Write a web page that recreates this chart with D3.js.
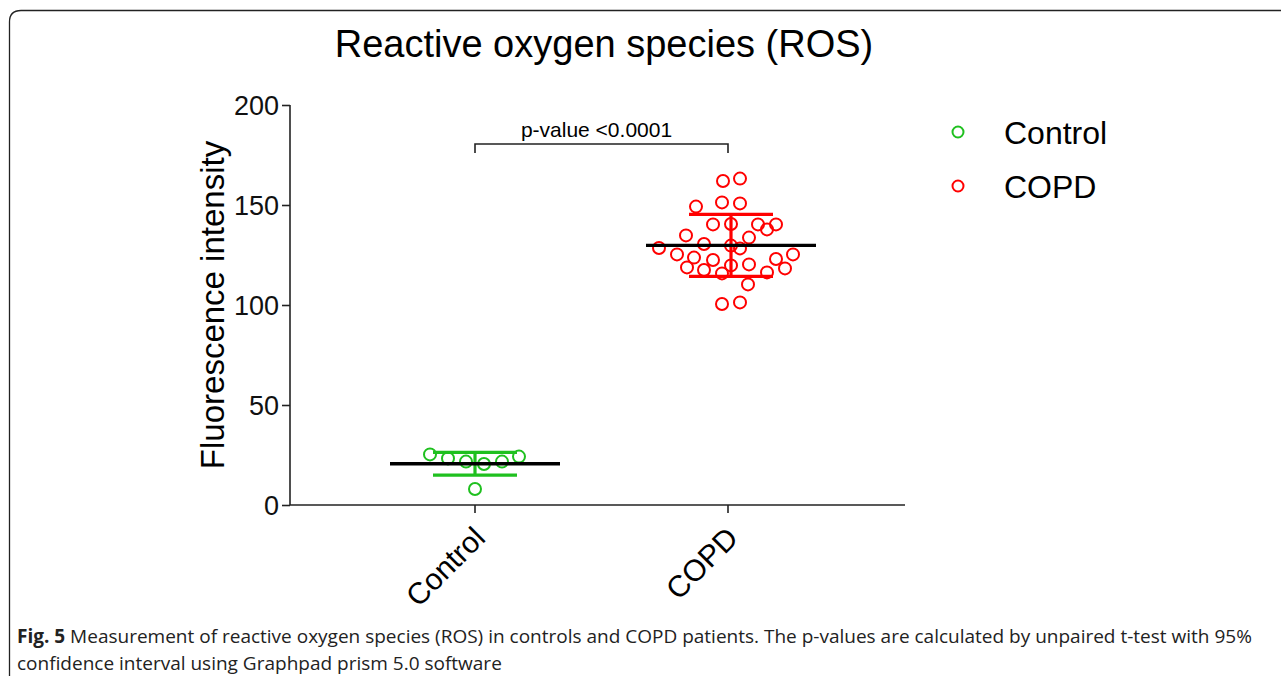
<!DOCTYPE html>
<html>
<head>
<meta charset="utf-8">
<script src="https://cdn.jsdelivr.net/npm/d3@7"></script>
<style>
  body { margin:0; background:#fff; }
  svg { display:block; }
  .caption { font-family:"Open Sans", sans-serif; font-size:19px; fill:#222; }
</style>
</head>
<body>
<svg id="chart" width="1281" height="676"></svg>
<script>
// data
const groups = ['Control', 'COPD'];
const groupColors = ['#1fc01f', '#ff0000'];
const controlValues = [25.3, 23.3, 21.7, 20.5, 21.7, 24.2, 8];
const controlOffsets = [-45, -27, -9, 9, 27, 44, 0];
const copdValues = [162, 163.2, 151.3, 150.8, 149.2, 140.3, 140.5, 140.3, 137.8, 140.3,
  134.8, 133.7, 128.5, 130.5, 129.7, 128.3, 125.3, 123.7, 122.5, 125.3, 123,
  118.8, 117.5, 115.8, 119.8, 120.3, 116.3, 118.3, 110.3, 100.5, 101.3];
const copdOffsets = [-5, 12, -6, 12, -32, -15, 3, 30, 39, 48,
  -42, 21, -69, -24, 3, 12, -51, -34, -15, 65, 48,
  -41, -24, -6, 3, 21, 39, 57, 20, -6, 12];
const stats = [
  { mean: 20.6, sd: 5.7 },
  { mean: 129.8, sd: 15.5 }
];
const yTicks = [0, 50, 100, 150, 200];
const pText = 'p-value <0.0001';

const svg = d3.select('#chart');
const SANS = 'Liberation Sans, Arial, sans-serif';

// frame: top and left edges only
svg.append('path')
  .attr('d', 'M9.5,676 L9.5,22 Q9.5,10.5 21,10.5 L1281,10.5')
  .attr('fill', 'none').attr('stroke', '#222').attr('stroke-width', 1.3);

const x = d3.scalePoint().domain(groups).range([475, 728]);
const y = d3.scaleLinear().domain([0, 200]).range([505, 105]);
const x0 = 290, x1 = 905;

// title
svg.append('text')
  .attr('x', 604).attr('y', 57)
  .attr('text-anchor', 'middle')
  .style('font-family', SANS)
  .style('font-size', '38px')
  .text('Reactive oxygen species (ROS)');

// y axis
const yAxis = svg.append('g')
  .attr('transform', `translate(${x0},0)`)
  .call(d3.axisLeft(y).tickValues(yTicks).tickSize(8).tickPadding(3));
yAxis.select('.domain').attr('stroke', '#222').attr('stroke-width', 1.6).attr('d', `M0,${y(200)}V${y(0)}`);
yAxis.selectAll('.tick line').attr('stroke', '#222').attr('stroke-width', 1.6);
yAxis.selectAll('.tick text')
  .style('font-family', SANS)
  .style('font-size', '27px').attr('fill', '#111').attr('dy', '0.36em');

svg.append('text')
  .attr('transform', `translate(224,${y(100)}) rotate(-90)`)
  .attr('text-anchor', 'middle')
  .style('font-family', SANS)
  .style('font-size', '33px')
  .text('Fluorescence intensity');

// x axis
const xAxisG = svg.append('g').attr('transform', `translate(0,${y(0)})`);
xAxisG.append('line').attr('x1', x0).attr('x2', x1)
  .attr('stroke', '#222').attr('stroke-width', 1.6);
groups.forEach(g => {
  xAxisG.append('line').attr('x1', x(g)).attr('x2', x(g)).attr('y1', 0).attr('y2', 8)
    .attr('stroke', '#222').attr('stroke-width', 1.6);
  xAxisG.append('text')
    .attr('transform', `translate(${x(g) - 3},${20}) rotate(-45)`)
    .attr('text-anchor', 'end')
    .attr('dy', '0.7em')
    .style('font-family', SANS)
    .style('font-size', '30px')
    .text(g);
});

// significance bracket
const by = 144, bh = 9;
svg.append('path')
  .attr('d', `M${x('Control')},${by + bh}V${by}H${x('COPD')}V${by + bh}`)
  .attr('fill', 'none').attr('stroke', '#222').attr('stroke-width', 1.6);
svg.append('text')
  .attr('x', (x('Control') + x('COPD')) / 2 - 5).attr('y', by - 7)
  .attr('text-anchor', 'middle')
  .style('font-family', SANS)
  .style('font-size', '21px')
  .text(pText);

// points, error bars, mean lines
const series = [
  { vals: controlValues, offs: controlOffsets },
  { vals: copdValues, offs: copdOffsets }
];
series.forEach((s, i) => {
  const g = groups[i], c = groupColors[i], cx = x(g) + (i === 1 ? 3 : 0);
  const st = stats[i];
  const eb = svg.append('g').attr('stroke', c).attr('stroke-width', 3.2);
  eb.append('line').attr('x1', cx).attr('x2', cx)
    .attr('y1', y(st.mean + st.sd)).attr('y2', y(st.mean - st.sd));
  [st.mean + st.sd, st.mean - st.sd].forEach(v => {
    eb.append('line').attr('x1', cx - 42).attr('x2', cx + 42)
      .attr('y1', y(v)).attr('y2', y(v));
  });
  svg.append('g').selectAll('circle')
    .data(s.vals.map((v, j) => ({ v, o: s.offs[j] })))
    .join('circle')
    .attr('cx', d => x(g) + d.o)
    .attr('cy', d => y(d.v))
    .attr('r', 6)
    .attr('fill', '#fff').attr('fill-opacity', 0)
    .attr('stroke', c).attr('stroke-width', 2);
  svg.append('line')
    .attr('x1', cx - 85).attr('x2', cx + 85)
    .attr('y1', y(st.mean)).attr('y2', y(st.mean))
    .attr('stroke', '#000').attr('stroke-width', 3.4);
});

// legend
const legend = svg.append('g');
groups.forEach((g, i) => {
  const ly = 132 + i * 54;
  legend.append('circle').attr('cx', 958).attr('cy', ly).attr('r', 5.5)
    .attr('fill', 'none').attr('stroke', groupColors[i]).attr('stroke-width', 2);
  legend.append('text').attr('x', 1004).attr('y', ly).attr('dy', '0.36em')
    .style('font-family', SANS)
    .style('font-size', '32px')
    .text(g);
});

// caption
const cap = svg.append('text').attr('class', 'caption').attr('x', 17).attr('y', 643);
cap.append('tspan').style('font-weight', 'bold').text('Fig. 5');
cap.append('tspan').text(' Measurement of reactive oxygen species (ROS) in controls and COPD patients. The p-values are calculated by unpaired t-test with 95%');
svg.append('text').attr('class', 'caption').attr('x', 17).attr('y', 670)
  .text('confidence interval using Graphpad prism 5.0 software');
</script>
</body>
</html>
